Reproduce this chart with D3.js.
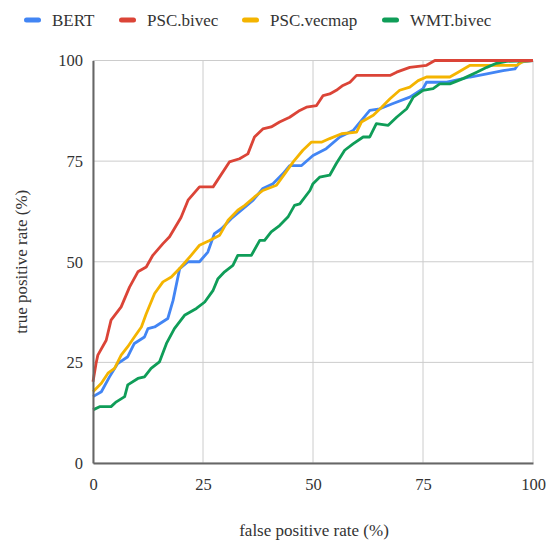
<!DOCTYPE html>
<html>
<head>
<meta charset="utf-8">
<script src="https://cdn.jsdelivr.net/npm/d3@7"></script>
<style>
  body { margin: 0; background: #fff; }
  text { font-family: "Liberation Serif", "Times New Roman", serif; fill: #333; }
</style>
</head>
<body>
<div id="chart"></div>
<script>
// series names and colours
var seriesNames = ["BERT", "PSC.bivec", "PSC.vecmap", "WMT.bivec"];
var seriesColors = ["#4285F4", "#DB4437", "#F4B400", "#0F9D58"];

// [false positive rate, true positive rate]
var bert = [[0,16.5],[1.9,17.7],[3.75,21.4],[5.6,24.7],[7.9,26.4],[9.4,29.7],[11.7,31.3],[12.5,33.4],[14,33.8],[17,35.9],[18.2,40.4],[19.7,48.3],[21.6,50],[24.2,50],[26.1,52.4],[27.6,57],[29.2,58.2],[31.4,60.7],[33.7,62.8],[36.4,65.3],[38.6,68.2],[40.9,69.4],[43.2,71.9],[44.7,73.9],[47.4,73.9],[50,76.4],[53,78.1],[56.1,81],[59.1,82.6],[62.9,87.6],[65.2,88],[68.2,89.3],[72,90.9],[75,93],[75.8,94.6],[80.4,94.6],[85.7,95.9],[89.5,96.7],[93.2,97.5],[95.9,97.9],[97,99.6],[98.6,99.8],[100,100]];
var pscBivec = [[0,20.2],[0.7,24.8],[1.1,26.8],[3,30.5],[4.1,35.5],[6.4,38.8],[8.3,43.7],[10.2,47.5],[12.1,48.7],[13.6,51.6],[15.9,54.5],[17.4,56.2],[20,61],[21.6,65.3],[24.2,68.6],[27.3,68.6],[31,74.8],[33.3,75.6],[35.2,76.8],[36.7,81],[38.6,83],[40.5,83.5],[42.4,84.7],[44.7,85.9],[47,87.6],[48.5,88.4],[50.8,88.8],[52.3,91.3],[53.8,91.7],[55.3,92.6],[56.8,93.8],[58.4,94.6],[59.9,96.3],[67.5,96.3],[69,97.1],[72,98.3],[75.8,98.8],[77.7,100],[100,100]];
var pscVecmap = [[0,17.7],[1.9,19.8],[3.4,22.3],[4.9,23.5],[6.4,26.8],[7.9,28.9],[9.4,31.3],[11,33.8],[12.1,37.1],[14,42.1],[15.9,45],[17.8,46.2],[20,48.7],[22.3,51.6],[24.2,54.1],[26.5,55.3],[28.8,56.6],[30.7,60.3],[32.9,62.8],[34.5,64],[36.7,66.1],[38.6,67.7],[41.7,69],[43.6,71.9],[45.5,74.8],[47.7,77.7],[49.6,79.7],[51.9,79.7],[53.8,80.6],[56.5,81.8],[59.9,82.2],[61,84.7],[63.7,86.4],[65.6,88.4],[67.5,90.5],[69.7,92.6],[72,93.4],[73.9,95],[75.8,95.9],[81.1,95.9],[83,97.1],[85.7,98.8],[96.3,98.8],[97.8,99.8],[100,100]];
var wmtBivec = [[0,13.2],[1.5,14],[4.1,14],[5.3,15.2],[7.2,16.5],[7.9,19.4],[10.2,21],[11.7,21.4],[13.2,23.5],[15.1,25.1],[16.7,29.7],[18.5,33.4],[20.8,36.7],[23.5,38.4],[25.4,40],[27.3,42.9],[28.4,45.8],[29.9,47.5],[31.8,49.1],[32.9,51.6],[36,51.6],[37.9,55.3],[39,55.3],[40.5,57.4],[42.4,59],[44.3,61.1],[45.8,64],[47,64.4],[49.3,67.7],[50,69.4],[51.5,71],[53.8,71.5],[55.3,74.4],[57.2,77.7],[59.1,79.3],[61.4,81],[62.9,81],[64.4,84.3],[67.1,83.9],[69,85.9],[71.3,88],[72.8,90.9],[75,92.6],[77.3,93],[78.8,94.2],[81.1,94.2],[84.1,95.5],[87.2,97.1],[89.5,98.3],[91.7,99.3],[94,99.8],[100,100]];
// draw order matches the picture (later series on top)
var allSeries = [bert, pscBivec, pscVecmap, wmtBivec];
var drawOrder = [0, 2, 3, 1];

var xTicks = [0, 25, 50, 75, 100];
var yTicks = [0, 25, 50, 75, 100];

var svgWidth = 549, svgHeight = 541;
var margin = {top: 60.5, right: 16, bottom: 78, left: 93};

var svg = d3.select("#chart").append("svg")
  .attr("width", svgWidth)
  .attr("height", svgHeight);

var xScale = d3.scaleLinear().domain([0, 100]).range([margin.left, svgWidth - margin.right]);
var yScale = d3.scaleLinear().domain([0, 100]).range([svgHeight - margin.bottom, margin.top]);

// grid lines
svg.append("g").selectAll("line.v")
  .data(xTicks).enter().append("line")
  .attr("x1", function(d){ return xScale(d); })
  .attr("x2", function(d){ return xScale(d); })
  .attr("y1", yScale(0)).attr("y2", yScale(100))
  .attr("stroke", "#cccccc").attr("stroke-width", 1);

svg.append("g").selectAll("line.h")
  .data(yTicks).enter().append("line")
  .attr("y1", function(d){ return yScale(d); })
  .attr("y2", function(d){ return yScale(d); })
  .attr("x1", xScale(0)).attr("x2", xScale(100))
  .attr("stroke", "#cccccc").attr("stroke-width", 1);

// series lines
var line = d3.line()
  .x(function(d){ return xScale(d[0]); })
  .y(function(d){ return yScale(d[1]); });

drawOrder.forEach(function(i){
  svg.append("path")
    .datum(allSeries[i])
    .attr("d", line)
    .attr("fill", "none")
    .attr("stroke", seriesColors[i])
    .attr("stroke-width", 2.8)
    .attr("stroke-linejoin", "round");
});

// axes, no tick marks, just a dark base line
var xAxis = d3.axisBottom(xScale).tickValues(xTicks).tickSize(0).tickPadding(15);
var yAxis = d3.axisLeft(yScale).tickValues(yTicks).tickSize(0).tickPadding(10);

var gx = svg.append("g")
  .attr("transform", "translate(0," + yScale(0) + ")")
  .call(xAxis);
var gy = svg.append("g")
  .attr("transform", "translate(" + xScale(0) + ",0)")
  .call(yAxis);

[gx, gy].forEach(function(g){
  g.select(".domain").attr("stroke", "#666666").attr("stroke-width", 2);
  g.selectAll("text")
    .style("font-family", "Liberation Serif, serif")
    .style("font-size", "16.5px")
    .attr("fill", "#333");
});

// axis titles
svg.append("text")
  .attr("x", 314)
  .attr("y", 536)
  .style("text-anchor", "middle")
  .style("font-size", "17px")
  .text("false positive rate (%)");

svg.append("text")
  .attr("transform", "translate(27," + yScale(50) + ") rotate(-90)")
  .style("text-anchor", "middle")
  .style("font-size", "17px")
  .text("true positive rate (%)");

// legend
var legendX = [24, 119, 242, 382];
var legend = svg.append("g");
seriesNames.forEach(function(name, i){
  legend.append("rect")
    .attr("x", legendX[i]).attr("y", 17.5)
    .attr("width", 17).attr("height", 5)
    .attr("rx", 2.5)
    .attr("fill", seriesColors[i]);
  legend.append("text")
    .attr("x", legendX[i] + 28)
    .attr("y", 25.5)
    .style("font-size", "17px")
    .text(name);
});
</script>
</body>
</html>
